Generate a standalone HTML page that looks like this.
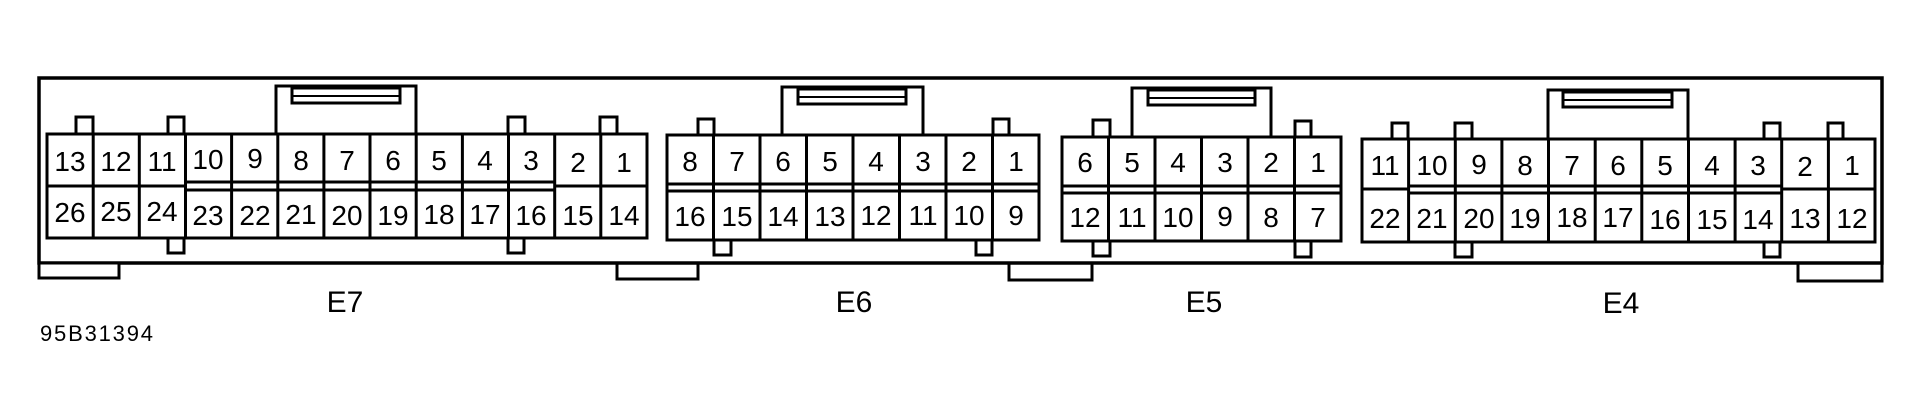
<!DOCTYPE html>
<html><head><meta charset="utf-8"><style>
html,body{margin:0;padding:0;background:#fff;}
svg{display:block;}
text{font-family:"Liberation Sans",sans-serif;fill:#000;}
</style></head><body>
<svg width="1918" height="416" viewBox="0 0 1918 416" xmlns="http://www.w3.org/2000/svg">
<g fill="none" stroke="#000" stroke-width="3">
<rect x="39" y="78" width="1843" height="185" stroke-width="3.5"/>
<rect x="39" y="263" width="80" height="15" fill="#fff"/>
<polyline points="617,263 617,279 698,279 698,263"/>
<polyline points="1009,263 1009,280 1092,280 1092,263"/>
<polyline points="1798,263 1798,281 1882,281 1882,263"/>

<!-- E7 -->
<polyline points="276,134 276,86 416,86 416,134"/>
<rect x="292" y="88" width="108" height="15"/><line x1="292" y1="96" x2="400" y2="96" stroke-width="2"/>
<rect x="76" y="117" width="17" height="17"/><rect x="168" y="117" width="16" height="17"/>
<rect x="508" y="117" width="17" height="17"/><rect x="600" y="117" width="17" height="17"/>
<rect x="168" y="238" width="16" height="15"/><rect x="508" y="238" width="16" height="15"/>
<rect x="47" y="134" width="600" height="104" fill="#fff"/>
<line x1="47" y1="186" x2="185.5" y2="186"/>
<line x1="185.5" y1="182" x2="554.7" y2="182"/><line x1="185.5" y1="190" x2="554.7" y2="190"/>
<line x1="554.7" y1="186" x2="647" y2="186"/>
<path d="M93.2,134V238M139.3,134V238M185.5,134V238M231.6,134V238M277.8,134V238M323.9,134V238M370,134V238M416.2,134V238M462.4,134V238M508.5,134V238M554.7,134V238M600.8,134V238"/>

<!-- E6 -->
<polyline points="782,135 782,87 923,87 923,135"/>
<rect x="798" y="89" width="108" height="15"/><line x1="798" y1="97" x2="906" y2="97" stroke-width="2"/>
<rect x="698" y="119" width="16" height="16"/><rect x="993" y="119" width="16" height="16"/>
<rect x="714" y="240" width="17" height="15"/><rect x="976" y="240" width="16" height="15"/>
<rect x="667" y="135" width="372" height="105" fill="#fff"/>
<line x1="667" y1="184" x2="1039" y2="184"/><line x1="667" y1="191" x2="1039" y2="191"/>
<path d="M713.5,135V240M760,135V240M806.5,135V240M853,135V240M899.5,135V240M946,135V240M992.5,135V240"/>

<!-- E5 -->
<polyline points="1132,136 1132,88 1271,88 1271,136"/>
<rect x="1148" y="90" width="107" height="15"/><line x1="1148" y1="98" x2="1255" y2="98" stroke-width="2"/>
<rect x="1093" y="120" width="17" height="17"/><rect x="1295" y="121" width="16" height="16"/>
<rect x="1093" y="241" width="17" height="15"/><rect x="1295" y="241" width="16" height="16"/>
<rect x="1062" y="137" width="279" height="104" fill="#fff"/>
<line x1="1062" y1="186" x2="1341" y2="186"/><line x1="1062" y1="193" x2="1341" y2="193"/>
<path d="M1108.5,137V241M1155,137V241M1201.5,137V241M1248,137V241M1294.5,137V241"/>

<!-- E4 -->
<polyline points="1548,139 1548,90 1688,90 1688,139"/>
<rect x="1563" y="92" width="109" height="15"/><line x1="1563" y1="100" x2="1672" y2="100" stroke-width="2"/>
<rect x="1392" y="123" width="16" height="16"/><rect x="1455" y="123" width="17" height="16"/>
<rect x="1764" y="123" width="16" height="16"/><rect x="1828" y="123" width="15" height="16"/>
<rect x="1455" y="242" width="17" height="15"/><rect x="1764" y="242" width="16" height="15"/>
<rect x="1362" y="139" width="513" height="103" fill="#fff"/>
<line x1="1362" y1="189" x2="1408.6" y2="189"/>
<line x1="1408.6" y1="186" x2="1781.7" y2="186"/><line x1="1408.6" y1="193" x2="1781.7" y2="193"/>
<line x1="1781.7" y1="189" x2="1875" y2="189"/>
<path d="M1408.6,139V242M1455.3,139V242M1501.9,139V242M1548.5,139V242M1595.2,139V242M1641.8,139V242M1688.5,139V242M1735.1,139V242M1781.7,139V242M1828.4,139V242"/>
</g>

<g font-size="28" text-anchor="middle">
<text x="70" y="171">13</text><text x="116" y="171">12</text><text x="162" y="171">11</text><text x="208" y="169">10</text><text x="255" y="168">9</text><text x="301" y="170">8</text><text x="347" y="170">7</text><text x="393" y="170">6</text><text x="439" y="170">5</text><text x="485" y="170">4</text><text x="531" y="170">3</text><text x="578" y="172">2</text><text x="624" y="172">1</text>
<text x="70" y="222">26</text><text x="116" y="221">25</text><text x="162" y="221">24</text><text x="208" y="225">23</text><text x="255" y="225">22</text><text x="301" y="224">21</text><text x="347" y="225">20</text><text x="393" y="225">19</text><text x="439" y="224">18</text><text x="485" y="224">17</text><text x="531" y="225">16</text><text x="578" y="225">15</text><text x="624" y="225">14</text>
<text x="690" y="171">8</text><text x="737" y="171">7</text><text x="783" y="171">6</text><text x="830" y="171">5</text><text x="876" y="171">4</text><text x="923" y="171">3</text><text x="969" y="171">2</text><text x="1016" y="171">1</text>
<text x="690" y="226">16</text><text x="737" y="226">15</text><text x="783" y="226">14</text><text x="830" y="226">13</text><text x="876" y="225">12</text><text x="923" y="225">11</text><text x="969" y="225">10</text><text x="1016" y="225">9</text>
<text x="1085" y="172">6</text><text x="1132" y="172">5</text><text x="1178" y="172">4</text><text x="1225" y="172">3</text><text x="1271" y="172">2</text><text x="1318" y="172">1</text>
<text x="1085" y="227">12</text><text x="1132" y="227">11</text><text x="1178" y="227">10</text><text x="1225" y="226">9</text><text x="1271" y="227">8</text><text x="1318" y="227">7</text>
<text x="1385" y="175">11</text><text x="1432" y="175">10</text><text x="1479" y="174">9</text><text x="1525" y="175">8</text><text x="1572" y="175">7</text><text x="1618" y="175">6</text><text x="1665" y="175">5</text><text x="1712" y="175">4</text><text x="1758" y="175">3</text><text x="1805" y="176">2</text><text x="1852" y="175">1</text>
<text x="1385" y="228">22</text><text x="1432" y="228">21</text><text x="1479" y="228">20</text><text x="1525" y="228">19</text><text x="1572" y="227">18</text><text x="1618" y="227">17</text><text x="1665" y="229">16</text><text x="1712" y="229">15</text><text x="1758" y="229">14</text><text x="1805" y="228">13</text><text x="1852" y="228">12</text>
</g>
<g font-size="30" text-anchor="middle">
<text x="345" y="312">E7</text><text x="854" y="312">E6</text><text x="1204" y="312">E5</text><text x="1621" y="313">E4</text>
</g>
<text x="40" y="341" font-size="22" textLength="113">95B31394</text>
</svg>
</body></html>
